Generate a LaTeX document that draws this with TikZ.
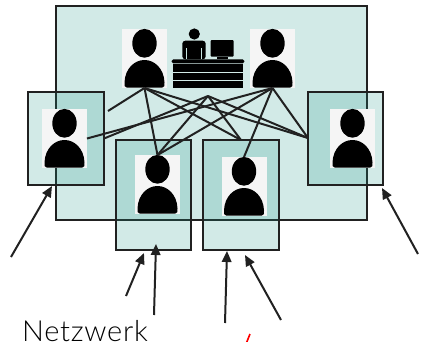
\documentclass[tikz,border=0pt]{standalone}
\usepackage{fontspec}
\setmainfont{Lato}
\newfontfamily\netfont{Lato Light}[LetterSpace=2.5]
\usetikzlibrary{arrows.meta}
\definecolor{teal0}{RGB}{30,150,135}
\definecolor{ink}{RGB}{33,33,33}
\tikzset{
  x=1pt,y=-1pt,
  zone/.style={draw=ink,line width=2.2pt,fill=teal0,fill opacity=.2,draw opacity=1},
  photo/.style={fill=black!4,minimum width=45pt,minimum height=59pt,inner sep=0pt,outer sep=0pt},
  link/.style={draw=ink,line width=2pt},
  pointer/.style={draw=ink,line width=2pt,-{Triangle[length=11pt,width=9.5pt]}},
  person/.pic={
    \fill[black] (0,-15.2) ellipse [x radius=12.2pt,y radius=14.4pt];
    \fill[black] (-17.5,29.2) .. controls (-20,29.2) and (-20.2,27) .. (-20,24)
      .. controls (-19.5,10) and (-10,1.5) .. (0,1.5)
      .. controls (10,1.5) and (19.5,10) .. (20,24)
      .. controls (20.2,27) and (20,29.2) .. (17.5,29.2) -- cycle;
  }
}
\begin{document}
\begin{tikzpicture}
\useasboundingbox (0,0) rectangle (424,341);
% zones
\path[zone] (56,6) rectangle (367,220);
\path[zone] (28,92) rectangle (104,185);
\path[zone] (308,92) rectangle (383,185);
\path[zone] (116,140) rectangle (191,250);
\path[zone] (203,140) rectangle (279,250);
\coordinate (leftz) at (104,138.5);
\coordinate (rightz) at (308,138);
\coordinate (midz) at (241,140);
\coordinate (hub) at (208,96);
\coordinate (free) at (108,111);
% photos
\node[photo] (pa) at (144.5,58.5) {};
\node[photo] (pb) at (272.5,58.5) {};
\node[photo] (pl) at (64.5,138.5) {};
\node[photo] (pr) at (352.5,138.5) {};
\node[photo] (pm) at (157.5,184.5) {};
\node[photo] (pn) at (244,186.5) {};
\foreach \n in {pa,pb,pl,pr,pm,pn} \pic at (\n.center) {person};
% connectors
\draw[link] (pa.south) -- (free);
\draw[link] (pa.south) -- (pm.north);
\draw[link] (pa.south) -- (midz);
\draw[link] (pa.south) -- (rightz);
\draw[link] (pb.south) -- (rightz);
\draw[link] (pb.south) -- (pn.north);
\draw[link] (pb.south) -- (pm.north);
\draw[link] (pb.south) -- (pl.east);
\draw[link] (hub) -- (pm.north);
\draw[link] (hub) -- (leftz);
\draw[link] (hub) -- (midz);
\draw[link] (hub) -- (rightz);
% desk icon
\fill[black] (194.3,34) circle [radius=5.6pt];
\fill[black, rounded corners=3pt] (182.3,59.3) -- (182.3,40.7) -- (205.7,40.7) -- (205.7,59.3) -- cycle;
\draw[teal0!25,line width=.6pt] (186.7,48) -- (186.7,59.3) (201,48) -- (201,59.3);
\fill[black,rounded corners=1pt] (210.7,40) rectangle (233.7,56.7);
\fill[black] (216.7,56.7) rectangle (227.7,59.3);
\fill[black,rounded corners=1.5pt] (171.7,59.3) rectangle (244.3,63.3);
\fill[black] (173.3,64.3) rectangle (242.7,71.7);
\fill[black] (173.3,72.7) rectangle (242.7,80);
\fill[black] (173.3,81) rectangle (242.7,88.3);
% pointers
\coordinate (s1) at (11,257); \coordinate (e1) at (52,186);
\coordinate (s2) at (126,296); \coordinate (e2) at (144,253);
\coordinate (s3) at (154,315); \coordinate (e3) at (156,244);
\coordinate (s4) at (225,323); \coordinate (e4) at (227,251);
\coordinate (s5) at (281,320); \coordinate (e5) at (245,255);
\coordinate (s6) at (418,254); \coordinate (e6) at (382,188);
\foreach \i in {1,...,6} \draw[pointer] (s\i) -- (e\i);
% texts
\node[anchor=base west,inner sep=0pt,font=\netfont\fontsize{29}{29}\selectfont,text=black] (net) at (22,341) {Netzwerk};
\coordinate (r1) at (250,334); \coordinate (r2) at (246,344);
\draw[red,line width=1.6pt] (r1) -- (r2);
\end{tikzpicture}
\end{document}
